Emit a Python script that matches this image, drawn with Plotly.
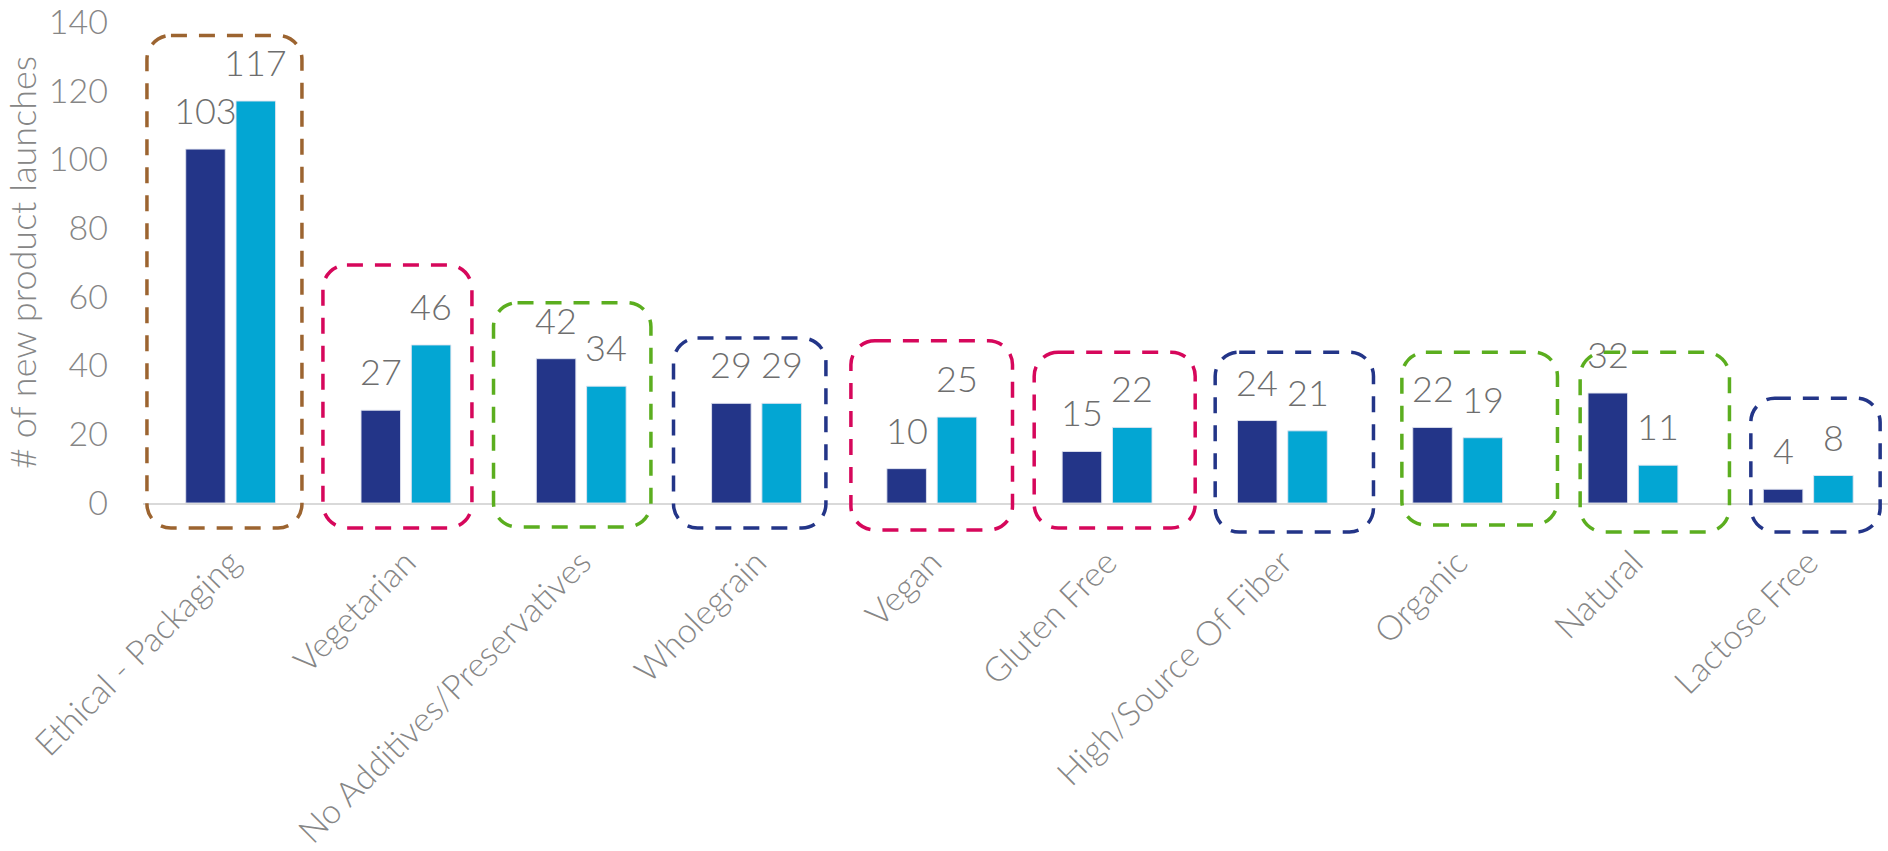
import plotly.graph_objects as go

# ---- data -------------------------------------------------------------
categories = [
    "Ethical - Packaging", "Vegetarian", "No Additives/Preservatives",
    "Wholegrain", "Vegan", "Gluten Free", "High/Source Of Fiber",
    "Organic", "Natural", "Lactose Free",
]
series_a = [103, 27, 42, 29, 10, 15, 24, 22, 32, 4]
series_b = [117, 46, 34, 29, 25, 22, 21, 19, 11, 8]
y_ticks = [0, 20, 40, 60, 80, 100, 120, 140]

# ---- page geometry ----------------------------------------------------
W, H = 1888, 851
ML, MR, MT, MB = 143, 0, 22, 348
PLOT_W = W - ML - MR
PLOT_H = H - MT - MB
X_RANGE = [-0.5, 9.455]
Y_RANGE = [0, 140]

FONT = "Lato"
WEIGHT = 300
GREY = "#868686"
DARK = "#233588"
LIGHT = "#03A6D3"

BAR_W = 0.2255
BAR_SHIFT = 0.1435

# ---- highlight frames around each category ---------------------------
BROWN, CRIMSON, GREEN, NAVY = "#9C6430", "#D6075B", "#5BAE1F", "#233588"
frame_colors = [BROWN, CRIMSON, GREEN, NAVY, CRIMSON, CRIMSON, NAVY, GREEN, GREEN, NAVY]
frame_left_px = [-83.7, -83, -87.7, -83, -80.9, -72.9, -67.2, -55.8, -52.8, -57.4]
frame_right_px = [71.3, 66, 69.7, 69.4, 80.7, 88.1, 91.1, 99.8, 96.5, 71.9]
frame_top_val = [136.1, 69.3, 58.3, 48.0, 47.2, 43.9, 43.9, 43.9, 43.9, 30.5]
frame_bottom_px = [25, 25, 24, 25, 27, 25, 29, 22, 29, 29]
FRAME_R = 24


def cat_to_paper(c):
    return (c - X_RANGE[0]) / (X_RANGE[1] - X_RANGE[0])


def val_to_paper(v):
    return (v - Y_RANGE[0]) / (Y_RANGE[1] - Y_RANGE[0])


def rounded_rect(x0, y0, x1, y1, r):
    """Rounded rectangle path in paper coordinates (y1 is the top)."""
    rx, ry = r / PLOT_W, r / PLOT_H
    k = 0.5523
    return (
        f"M {x0 + rx},{y1} L {x1 - rx},{y1} "
        f"C {x1 - rx + k * rx},{y1} {x1},{y1 - ry + k * ry} {x1},{y1 - ry} "
        f"L {x1},{y0 + ry} "
        f"C {x1},{y0 + ry - k * ry} {x1 - rx + k * rx},{y0} {x1 - rx},{y0} "
        f"L {x0 + rx},{y0} "
        f"C {x0 + rx - k * rx},{y0} {x0},{y0 + ry - k * ry} {x0},{y0 + ry} "
        f"L {x0},{y1 - ry} "
        f"C {x0},{y1 - ry + k * ry} {x0 + rx - k * rx},{y1} {x0 + rx},{y1} Z"
    )


shapes = []
for i, col in enumerate(frame_colors):
    cx = cat_to_paper(i)
    x0 = cx + frame_left_px[i] / PLOT_W
    x1 = cx + frame_right_px[i] / PLOT_W
    y1 = val_to_paper(frame_top_val[i])
    y0 = -frame_bottom_px[i] / PLOT_H
    shapes.append(dict(
        type="path", xref="paper", yref="paper",
        path=rounded_rect(x0, y0, x1, y1, FRAME_R),
        line=dict(color=col, width=3.5, dash="16px,12px"),
        fillcolor="rgba(0,0,0,0)", layer="above",
    ))

# ---- bars -------------------------------------------------------------
fig = go.Figure()
for vals, color, shift, name in [
    (series_a, DARK, -BAR_SHIFT, "Series A"),
    (series_b, LIGHT, BAR_SHIFT, "Series B"),
]:
    fig.add_trace(go.Bar(
        x=categories, y=vals, name=name,
        width=BAR_W, offset=shift - BAR_W / 2,
        marker=dict(color=color, line=dict(color="rgba(225,228,240,0.9)", width=1)),
        showlegend=False, hoverinfo="x+y",
    ))

# value labels above each bar
annotations = []
for vals, shift in [(series_a, -BAR_SHIFT), (series_b, BAR_SHIFT)]:
    for i, v in enumerate(vals):
        annotations.append(dict(
            x=i + shift, y=v, xref="x", yref="y",
            text=str(v), showarrow=False, yanchor="bottom",
            yshift=15, font=dict(family=FONT, size=36, color="#6E6E6E", weight=WEIGHT),
        ))

fig.update_layout(
    width=W, height=H, autosize=False,
    margin=dict(l=ML, r=MR, t=MT, b=MB, pad=0, autoexpand=False),
    paper_bgcolor="white", plot_bgcolor="white",
    barmode="overlay",
    shapes=shapes, annotations=annotations,
    font=dict(family=FONT, color=GREY, weight=WEIGHT),
)
fig.update_xaxes(
    range=X_RANGE, type="category", automargin=False,
    showline=True, linecolor="#D9D9D9", linewidth=2,
    showgrid=False, zeroline=False, ticks="",
    tickangle=-45, ticklabelstandoff=24, ticklabeloverflow="allow",
    tickfont=dict(family=FONT, size=34, color=GREY, weight=WEIGHT),
)
fig.update_yaxes(
    range=Y_RANGE, tickvals=y_ticks, automargin=False,
    showline=False, showgrid=False, zeroline=False, ticks="",
    ticklabelstandoff=34, ticklabeloverflow="allow",
    tickfont=dict(family=FONT, size=34, color=GREY, weight=WEIGHT),
    title=dict(text="# of new product launches", standoff=8,
               font=dict(family=FONT, size=36, color=GREY, weight=WEIGHT)),
)

fig.write_html("out.html")
